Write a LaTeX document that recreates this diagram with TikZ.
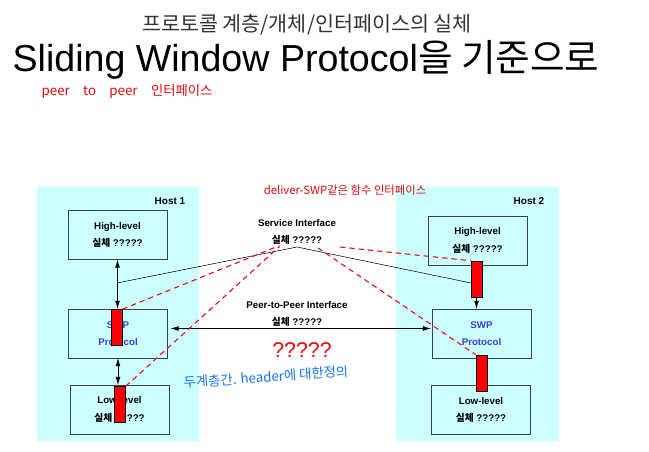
\documentclass[tikz,border=0pt]{standalone}
\usepackage{fontspec}
\setmainfont{Liberation Sans}
\newfontfamily\kr{Noto Sans CJK KR}
\usetikzlibrary{arrows.meta}
\definecolor{hostcyan}{RGB}{204,255,255}
\definecolor{swpblue}{RGB}{60,60,215}
\definecolor{penred}{RGB}{225,10,10}
\definecolor{penblue}{RGB}{20,115,240}
\newcommand{\silche}{{\kr 실체} ?????}
\tikzset{
  layer/.style={draw=black!75, fill=hostcyan, minimum width=74pt, minimum height=36.5pt,
    inner sep=0pt, align=center, font=\bfseries\fontsize{7.3}{13.2}\selectfont},
  redbar/.style={draw=black, fill=red, minimum width=8.25pt, minimum height=27pt, inner sep=0pt},
  peerdash/.style={penred, line width=0.8pt, dash pattern=on 4pt off 3pt},
  iflabel/.style={align=center, font=\bfseries\fontsize{7.3}{12.8}\selectfont},
  hostlabel/.style={font=\bfseries\fontsize{7.5}{9}\selectfont}
}
\begin{document}
\begin{tikzpicture}[x=0.75pt, y=-0.75pt, >={Latex[length=6pt,width=3.5pt]}]
  \useasboundingbox (0,0) rectangle (649,452);
  % Titles
  \node[black!80] (title) at (307,25) {\kr\fontsize{15.5}{17}\selectfont 프로토콜 계층/개체/인터페이스의 실체};
  \node (subtitle) at (306,60) {\fontsize{28.2}{30}\selectfont Sliding Window Protocol{\kr 을 기준으로}};
  \node[penred, font=\kr\fontsize{10}{12}\selectfont] (note1) at (127,92) {peer\quad to\quad peer\quad 인터페이스};
  % Hosts
  \fill[hostcyan] (37,187) rectangle (199,441);
  \fill[hostcyan] (396,187) rectangle (559,441);
  \node[hostlabel] (host1) at (170,201) {Host 1};
  \node[hostlabel] (host2) at (529,201) {Host 2};
  % Layers
  \node[layer] (high1) at (117.5,235) {High-level\\\silche};
  \node[layer, text=swpblue] (swp1) at (118,333.5) {SWP\\Protocol};
  \node[layer] (low1) at (119.5,409.5) {Low-level\\\silche};
  \node[layer] (high2) at (477.5,240.5) {High-level\\\silche};
  \node[layer, text=swpblue] (swp2) at (481.5,333.5) {SWP\\Protocol};
  \node[layer] (low2) at (481,410) {Low-level\\\silche};
  % Interface bars
  \foreach \point/\name in
    {(116.5,327.5)/bar1, (120,404.5)/bar2, (476.5,279)/bar3, (481.5,373)/bar4}
    \node[redbar] (\name) at \point {};
  % Vertical links
  \draw[<->] (high1.south) -- (high1.south |- swp1.north);
  \draw[<->] (swp1.south) -- (swp1.south |- low1.north);
  \draw[->] (bar3.south) -- (bar3.south |- swp2.north);
  % Service interface
  \coordinate (svcl) at (117,283);
  \coordinate (svc) at (297,247);
  \coordinate (svcr) at (471,283);
  \draw (svcl) -- (svc) -- (svcr);
  \node[iflabel] (svclabel) at (297,231.5) {Service Interface\\\silche};
  % Peer-to-peer interface
  \draw[<->] ([shift={(3,-5)}]swp1.east) -- ([shift={(-1,-5)}]swp2.west);
  \node[iflabel] (p2plabel) at (297,313.5) {Peer-to-Peer Interface\\\silche};
  \node[penred, font=\fontsize{16}{18}\selectfont] (qmarks) at (302,350) {?????};
  % Red dashed guides
  \coordinate (d1) at (276,247);
  \coordinate (d2) at (280,246);
  \coordinate (d3) at (318,248);
  \coordinate (d4) at (340,247);
  \draw[peerdash] (bar1.north east) -- (d1);
  \draw[peerdash] (bar2.north east) -- (d2);
  \draw[peerdash] (d3) -- (bar4.north west);
  \draw[peerdash] (d4) -- (bar3.north west);
  % Handwritten notes
  \node[penred, font=\kr\fontsize{8.5}{10}\selectfont] (note2) at (345,190) {deliver-SWP같은 함수 인터페이스};
  \node[penblue, rotate=4, font=\kr\fontsize{10}{12}\selectfont] (note3) at (266,377) {두계층간. header에 대한정의};
\end{tikzpicture}
\end{document}
